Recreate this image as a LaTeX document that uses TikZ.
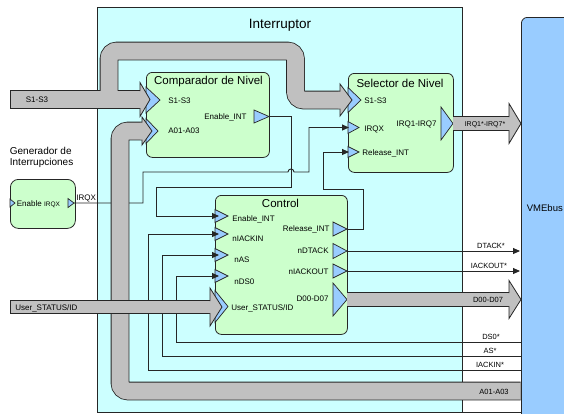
\documentclass[tikz,border=0pt]{standalone}
\usepackage{fontspec}
\setmainfont{Liberation Sans}
\usetikzlibrary{arrows.meta,calc}
\definecolor{cyanbg}{HTML}{CCFFFF}
\definecolor{greenbox}{HTML}{CCFFCC}
\definecolor{portblue}{HTML}{99CCFF}
\definecolor{busgray}{HTML}{C0C0C0}
\definecolor{ink}{HTML}{262626}
\newcommand{\lblfont}{\fontsize{8}{9.6}\selectfont}
\newcommand{\busfont}{\fontsize{7.5}{9}\selectfont}
\newcommand{\ttlfont}{\fontsize{11.5}{13.8}\selectfont}
\begin{document}
\begin{tikzpicture}[x=1pt,y=-1pt,line width=0.8pt,
  blockbox/.style={draw=ink,fill=greenbox,rounded corners=6pt,inner sep=0pt,anchor=north west},
  ttl/.style={font=\ttlfont,inner sep=0pt,anchor=base,text=black},
  port/.style={draw=ink,fill=portblue,line width=0.7pt,line join=miter},
  sig/.style={draw=ink,line width=0.9pt},
  sigarrow/.style={sig,-{Triangle[length=7pt,width=6pt]}},
  lbl/.style={font=\lblfont,inner sep=0pt,text=black},
  buslbl/.style={font=\busfont,inner sep=0pt,anchor=base,text=black},
  pics/tri/.style n args={2}{code={\filldraw[port] (0,-#2) -- (#1,0) -- (0,#2) -- cycle;}},
  pics/fathead/.style n args={3}{code={
    \fill[busgray] (0,0) -- (-#1,-#2) -- (-#1,-#3) -- (-#1-1.5,-#3) -- (-#1-1.5,#3) -- (-#1,#3) -- (-#1,#2) -- cycle;
    \draw[ink,line width=0.8pt,line join=miter] (-#1,-#3) -- (-#1,-#2) -- (0,0) -- (-#1,#2) -- (-#1,#3);}}
]
\useasboundingbox (0,0) rectangle (564,413);
\clip (0,0) rectangle (564,413);

% ---------- frames ----------
\node[draw=ink,fill=cyanbg,minimum width=365pt,minimum height=405pt,anchor=north west,inner sep=0pt] (intr) at (97,7) {};
\node[font=\fontsize{13.5}{16}\selectfont,inner sep=0pt,anchor=base] (intrt) at (280,28) {Interruptor};
\node[draw=ink,fill=portblue,rounded corners=6pt,minimum width=80pt,minimum height=420pt,anchor=north west,inner sep=0pt] (vme) at (521,17) {};
\node[font=\fontsize{9.5}{11}\selectfont,inner sep=0pt,anchor=base west] (vmet) at (526.5,211) {VMEbus};
\draw[ink] (intr.south west) -- (intr.south west -| vme.west);

% ---------- blocks ----------
\node[blockbox,minimum width=123pt,minimum height=85pt] (comp) at (146,72) {};
\node[ttl] (compt) at (208.5,84) {Comparador de Nivel};
\node[blockbox,minimum width=105pt,minimum height=99pt] (sel) at (348,73) {};
\node[ttl] (selt) at (400,87) {Selector de Nivel};
\node[blockbox,minimum width=132pt,minimum height=139pt] (ctl) at (215,195) {};
\node[ttl] (ctlt) at (280.5,207) {Control};
\node[blockbox,rounded corners=8pt,minimum width=65pt,minimum height=49pt] (gen) at (10,179) {};
\node[font=\fontsize{10}{11}\selectfont,inner sep=0pt,align=left,anchor=base west] (gent) at (9.5,165) {Generador de\\Interrupciones};

% ---------- port coordinates ----------
\coordinate (comp-s) at (146,100);
\coordinate (comp-a) at (146,131);
\coordinate (comp-en) at (269,116.5);
\coordinate (sel-s) at (348,100);
\coordinate (sel-irqx) at (348,127.5);
\coordinate (sel-rel) at (348,152);
\coordinate (sel-out) at (453,123.5);
\coordinate (ctl-en) at (215,216);
\coordinate (ctl-iackin) at (215,234);
\coordinate (ctl-as) at (215,255);
\coordinate (ctl-ds) at (215,276);
\coordinate (ctl-us) at (215,306.5);
\coordinate (ctl-rel) at (347,229);
\coordinate (ctl-dtack) at (347,251);
\coordinate (ctl-iackout) at (347,271);
\coordinate (ctl-d) at (347,299.5);
\coordinate (gen-in) at (10,203);
\coordinate (gen-out) at (74,203);
% bus-side coordinates
\coordinate (bus-dtack) at (520,251);
\coordinate (bus-iackout) at (520,271);
\coordinate (bus-ds) at (521,342);
\coordinate (bus-as) at (521,356);
\coordinate (bus-iackin) at (521,370);
\coordinate (bus-a) at (520.6,391);
\coordinate (bus-d) at (521,299.5);
\coordinate (bus-irq) at (521,123.5);
\coordinate (in-s) at (10,99.5);
\coordinate (in-us) at (10,307);
% bends
\coordinate (en-a) at (291,187);
\coordinate (en-b) at (156,187);
\coordinate (irq-a) at (143,172);
\coordinate (irq-b) at (309,172);
\coordinate (rel-a) at (363,189);
\coordinate (rel-b) at (323,189);
\coordinate (ds-k) at (176,276);
\coordinate (as-k) at (162,255);
\coordinate (iackin-k) at (148,234);

% ---------- port triangles ----------
\pic at (comp-s) {tri={14}{13}};
\pic at (comp-a) {tri={12}{12.5}};
\pic at ($(comp-en)+(-15,0)$) {tri={15}{6.5}};
\pic at (sel-s) {tri={13}{12.5}};
\pic at (sel-irqx) {tri={11}{6}};
\pic at (sel-rel) {tri={11}{5.5}};
\pic at ($(sel-out)+(-12,0)$) {tri={12}{16.5}};
\pic at (ctl-en) {tri={13}{6.5}};
\pic at (ctl-iackin) {tri={13}{6.5}};
\pic at (ctl-as) {tri={13}{6.5}};
\pic at (ctl-ds) {tri={13}{6.5}};
\pic at (ctl-us) {tri={13}{16}};
\pic at ($(ctl-rel)+(-14,0)$) {tri={14}{7}};
\pic at ($(ctl-dtack)+(-14,0)$) {tri={14}{7.5}};
\pic at ($(ctl-iackout)+(-14,0)$) {tri={14}{7}};
\pic at ($(ctl-d)+(-14,0)$) {tri={14}{16.5}};
\pic at (gen-in) {tri={5}{4}};
\pic at ($(gen-out)+(-6,0)$) {tri={6}{4.5}};

% ---------- thin signal connectors ----------
\draw[sigarrow] (comp-en) -| (en-a) -- (en-b) |- ($(ctl-en)+(4,0)$);
\draw[sigarrow] (gen-out) -| (irq-a) -- (288,172) .. controls (288,168) and (294,168) .. (294,172) -- (irq-b) |- ($(sel-irqx)+(1,0)$);
\draw[sigarrow] (ctl-rel) -| (rel-a) -- (rel-b) |- ($(sel-rel)+(1,0)$);
\draw[sigarrow] (ctl-dtack) -- (bus-dtack);
\draw[sigarrow] (ctl-iackout) -- (bus-iackout);
\draw[sigarrow] (bus-ds) -| (ds-k) -- ($(ctl-ds)+(4,0)$);
\draw[sigarrow] (bus-as) -| (as-k) -- ($(ctl-as)+(4,0)$);
\draw[sigarrow] (bus-iackin) -| (iackin-k) -- ($(ctl-iackin)+(4,0)$);

% ---------- wide buses ----------
% A01-A03
\draw[ink,line width=18.6pt,rounded corners=8pt] (bus-a) -- (120,391) -- (120,131) -- ($(comp-a)+(-4,0)$);
\draw[busgray,line width=17pt,rounded corners=8pt] (bus-a) -- (120,391) -- (120,131) -- ($(comp-a)+(-4,0)$);
\pic at ($(comp-a)+(6,0)$) {fathead={10}{14}{8.5}};
% S1-S3
\draw[ink,line width=18.6pt] (in-s) -- (140,99.5);
\draw[ink,line width=18.6pt,rounded corners=8pt] (109,99.5) -- (109,51) -- (295.5,51) -- (295.5,100) -- ($(sel-s)+(-8,0)$);
\draw[busgray,line width=17pt] (in-s) -- (140,99.5);
\draw[busgray,line width=17pt,rounded corners=8pt] (109,99.5) -- (109,51) -- (295.5,51) -- (295.5,100) -- ($(sel-s)+(-8,0)$);
\draw[ink] (10.4,90.7) -- (10.4,108.3);
\pic at (150,99.5) {fathead={10}{17}{8.5}};
\pic at ($(sel-s)+(4,0)$) {fathead={12}{16}{8.5}};
% IRQ1*-IRQ7*
\draw[ink,line width=14.6pt] (sel-out) -- ($(bus-irq)+(-12,0)$);
\draw[busgray,line width=13pt] (sel-out) -- ($(bus-irq)+(-12,0)$);
\pic at (bus-irq) {fathead={12}{20}{6.5}};
% D00-D07
\draw[ink,line width=14.6pt] (ctl-d) -- ($(bus-d)+(-12,0)$);
\draw[busgray,line width=13pt] (ctl-d) -- ($(bus-d)+(-12,0)$);
\pic at (bus-d) {fathead={12}{19}{6.5}};
% User_STATUS/ID
\draw[ink,line width=13.6pt] (in-us) -- (210,307);
\draw[busgray,line width=12pt] (in-us) -- (210,307);
\draw[ink] (10.4,300.2) -- (10.4,313.8);
\pic at (222,307) {fathead={12}{19}{6}};

% ---------- labels ----------
\node[lbl,anchor=base west] (l-cs) at (168,103) {S1-S3};
\node[lbl,anchor=base west] (l-ca) at (168,133.5) {A01-A03};
\node[lbl,anchor=base east] (l-cen) at (247,119.5) {Enable\_INT};
\node[lbl,anchor=base west] (l-ss) at (364,103) {S1-S3};
\node[lbl,anchor=base west] (l-sx) at (364,131) {IRQX};
\node[lbl,anchor=base west] (l-sr) at (362,155) {Release\_INT};
\node[lbl,anchor=base east] (l-so) at (437,126) {IRQ1-IRQ7};
\node[lbl,anchor=base west] (l-ten) at (232,221) {Enable\_INT};
\node[lbl,anchor=base west] (l-tia) at (232,241) {nIACKIN};
\node[lbl,anchor=base west] (l-tas) at (234,262) {nAS};
\node[lbl,anchor=base west] (l-tds) at (234,284) {nDS0};
\node[lbl,anchor=base west] (l-tus) at (231,310) {User\_STATUS/ID};
\node[lbl,anchor=base east] (l-trel) at (330,231) {Release\_INT};
\node[lbl,anchor=base east] (l-tdt) at (329,253) {nDTACK};
\node[lbl,anchor=base east] (l-tio) at (329,274) {nIACKOUT};
\node[lbl,anchor=base east] (l-td) at (329,301.5) {D00-D07};
\node[lbl,anchor=base west] (l-gen) at (16.5,206) {Enable {\fontsize{6.5}{7.5}\selectfont IRQX}};
\node[lbl,anchor=base west] (l-irqx) at (76,200) {IRQX};
\node[lbl,anchor=base] (l-s) at (37,102.5) {S1-S3};
\node[lbl,anchor=base west] (l-us) at (15,310) {User\_STATUS/ID};
\node[buslbl,font=\fontsize{7}{8.4}\selectfont] (b-irq) at (485,126) {IRQ1*-IRQ7*};
\node[buslbl] (b-dt) at (491,248) {DTACK*};
\node[buslbl] (b-io) at (489,268) {IACKOUT*};
\node[buslbl] (b-d) at (488,302.5) {D00-D07};
\node[buslbl] (b-ds) at (491,339.5) {DS0*};
\node[buslbl] (b-as) at (490,353.5) {AS*};
\node[buslbl] (b-ia) at (490,367) {IACKIN*};
\node[buslbl] (b-a) at (494,394.5) {A01-A03};
\end{tikzpicture}
\end{document}
